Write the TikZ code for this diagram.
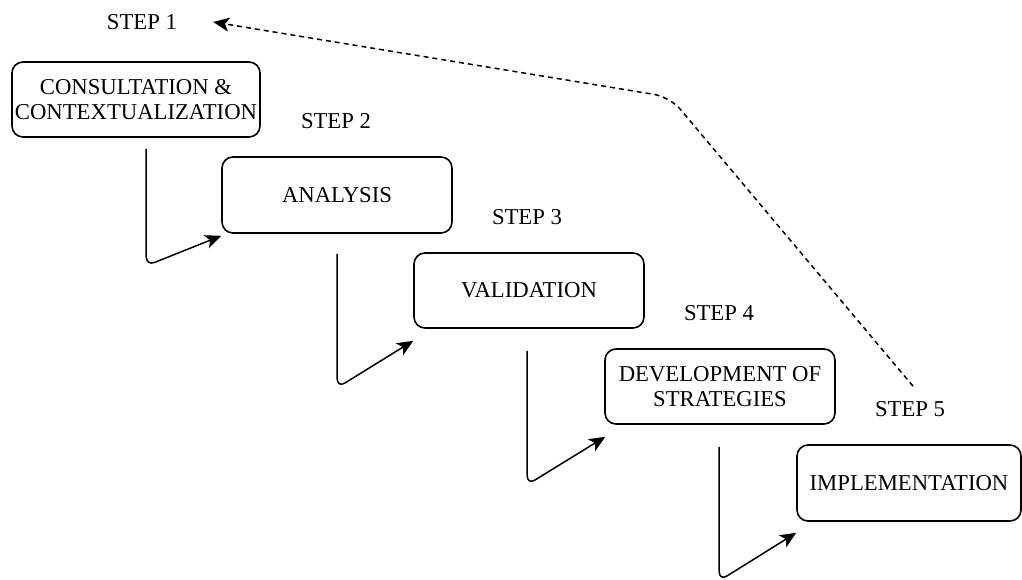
\documentclass[tikz,border=0pt]{standalone}
\usepackage{fontspec}
\setmainfont{Liberation Serif}
\usetikzlibrary{arrows.meta,calc}
\begin{document}
\begin{tikzpicture}[x=1pt,y=-1pt,
  stepbox/.style={draw, line width=1.6pt, rounded corners=11pt, align=center,
    inner sep=0pt, font=\fontsize{22.7}{25}\selectfont},
  steplabel/.style={font=\fontsize{22.7}{25}\selectfont, inner sep=0pt},
  flow/.style={line width=1.5pt, rounded corners=9pt,
    -{Stealth[length=16pt,width=14pt,inset=4pt]}},
  loopback/.style={line width=1.5pt, dash pattern=on 5pt off 4pt, rounded corners=16pt,
    -{Stealth[length=16pt,width=14pt,inset=4pt]}}]
\useasboundingbox (0,0) rectangle (1022,579);

% process boxes
\node[stepbox, minimum width=248pt, minimum height=75pt] (b1) at (136,99.5)
  {CONSULTATION \&\\CONTEXTUALIZATION};
\node[stepbox, minimum width=230pt, minimum height=76pt] (b2) at (337,195) {ANALYSIS};
\node[stepbox, minimum width=230pt, minimum height=75pt] (b3) at (529,290.5) {VALIDATION};
\node[stepbox, minimum width=230pt, minimum height=75pt] (b4) at (720,386.5)
  {DEVELOPMENT OF\\STRATEGIES};
\node[stepbox, minimum width=224pt, minimum height=76pt] (b5) at (909,483) {IMPLEMENTATION};

% step labels
\node[steplabel] (s1) at (142,22) {STEP 1};
\node[steplabel] (s2) at (336,121) {STEP 2};
\node[steplabel] (s3) at (527,217) {STEP 3};
\node[steplabel] (s4) at (719,313) {STEP 4};
\node[steplabel] (s5) at (910,409) {STEP 5};

% connector anchors
\coordinate (c1) at ($(b1.south west)+(135,11)$);
\coordinate (t2) at ($(b2.south west)+(0,2)$);
\coordinate (c2) at ($(b2.south west)+(116,20)$);
\coordinate (t3) at ($(b3.south west)+(0,12)$);
\coordinate (c3) at ($(b3.south west)+(114,22)$);
\coordinate (t4) at ($(b4.south west)+(1,12)$);
\coordinate (c4) at ($(b4.south west)+(115,22)$);
\coordinate (t5) at ($(b5.south west)+(0,11)$);
\coordinate (d0) at ($(b5.north)+(4,-58)$);
\coordinate (d1) at (670,97);
\coordinate (t1) at ($(s1.east)+(36,0)$);

% forward connectors
\draw[flow] (c1) -- ++(0,117) -- (t2);
\draw[flow] (c2) -- ++(0,134) -- (t3);
\draw[flow] (c3) -- ++(0,134) -- (t4);
\draw[flow] (c4) -- ++(0,134) -- (t5);

% feedback loop back to the first step
\draw[loopback] (d0) -- (d1) -- (t1);
\end{tikzpicture}
\end{document}
